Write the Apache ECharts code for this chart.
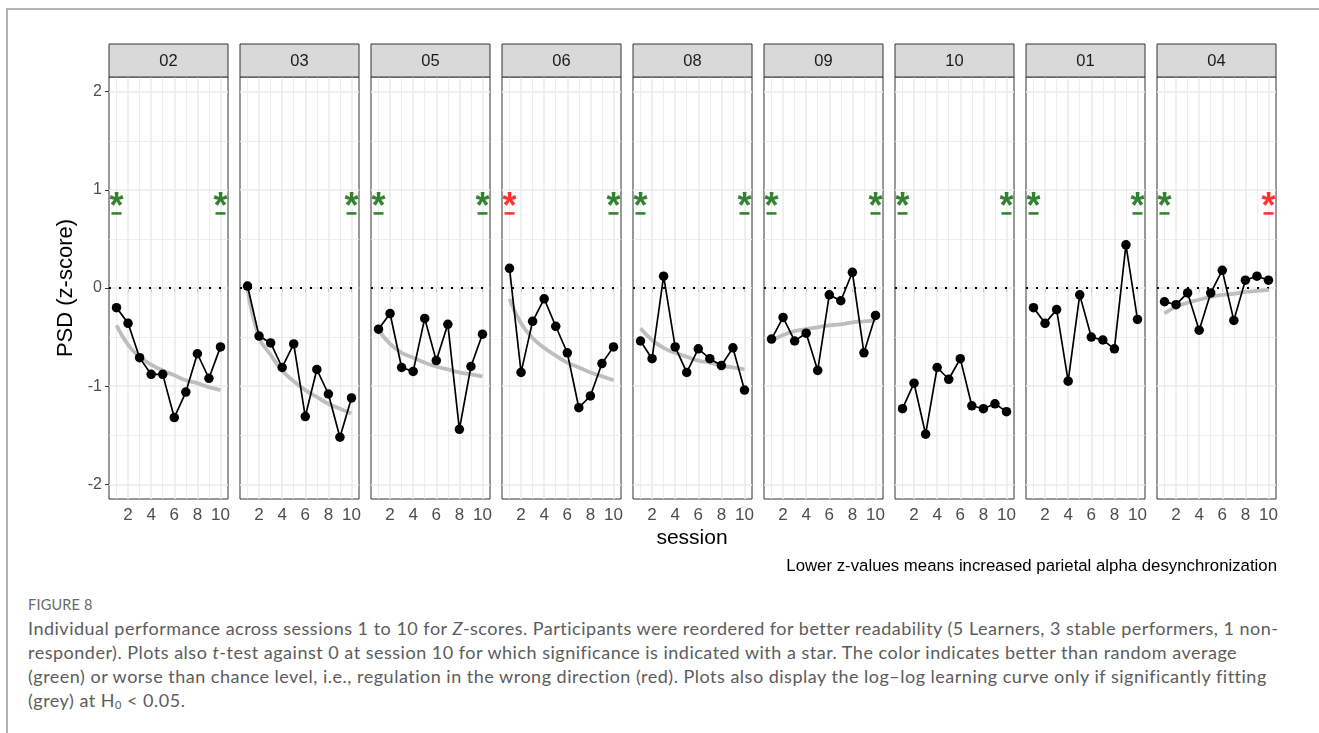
<!DOCTYPE html>
<html>
<head>
<meta charset="utf-8">
<script src="https://cdn.jsdelivr.net/npm/echarts@6/dist/echarts.min.js"></script>
<style>
  html, body { margin: 0; padding: 0; background: #fff; }
  #frame { position: absolute; left: 6px; top: 8px; width: 1313px; height: 725px;
           border-top: 2px solid #b4b4b4; border-left: 2px solid #b4b4b4; box-sizing: border-box; }
  #chart { position: absolute; left: 0; top: 0; width: 1319px; height: 590px; }
  #caption { position: absolute; left: 28px; top: 594px; font-family: Lato, "Open Sans", sans-serif;
             color: #5c5c5c; }
  #caption .fig { font-size: 14.5px; letter-spacing: 0.2px; height: 22px; line-height: 22px; color: #6a6a6a; }
  #caption .ln { font-size: 18px; letter-spacing: 0.5px; line-height: 24px; white-space: nowrap; }
  #caption sub { font-size: 11px; vertical-align: -2px; line-height: 0; }
</style>
</head>
<body>
<div id="frame"></div>
<div id="chart"></div>
<div id="caption">
  <div class="fig">FIGURE 8</div>
  <div class="ln">Individual performance across sessions 1 to 10 for <i>Z</i>-scores. Participants were reordered for better readability (5 Learners, 3 stable performers, 1 non-</div>
  <div class="ln">responder). Plots also <i>t</i>-test against 0 at session 10 for which significance is indicated with a star. The color indicates better than random average</div>
  <div class="ln">(green) or worse than chance level, i.e., regulation in the wrong direction (red). Plots also display the log–log learning curve only if significantly fitting</div>
  <div class="ln">(grey) at H<sub>0</sub> &lt; 0.05.</div>
</div>
<script>
// Participants (facet order) and sessions
const participants = ['02', '03', '05', '06', '08', '09', '10', '01', '04'];
const sessions = [1, 2, 3, 4, 5, 6, 7, 8, 9, 10];

// PSD z-scores per session
const z02 = [-0.20, -0.36, -0.71, -0.88, -0.88, -1.32, -1.06, -0.67, -0.92, -0.60];
const z03 = [0.02, -0.49, -0.56, -0.81, -0.57, -1.31, -0.83, -1.08, -1.52, -1.12];
const z05 = [-0.42, -0.26, -0.81, -0.85, -0.31, -0.74, -0.37, -1.44, -0.80, -0.47];
const z06 = [0.20, -0.86, -0.34, -0.11, -0.39, -0.66, -1.22, -1.10, -0.77, -0.60];
const z08 = [-0.54, -0.72, 0.12, -0.60, -0.86, -0.62, -0.72, -0.79, -0.61, -1.04];
const z09 = [-0.52, -0.30, -0.54, -0.46, -0.84, -0.07, -0.13, 0.16, -0.66, -0.28];
const z10 = [-1.23, -0.97, -1.49, -0.81, -0.93, -0.72, -1.20, -1.23, -1.18, -1.26];
const z01 = [-0.20, -0.36, -0.22, -0.95, -0.07, -0.50, -0.53, -0.62, 0.44, -0.32];
const z04 = [-0.14, -0.17, -0.05, -0.43, -0.05, 0.18, -0.33, 0.08, 0.12, 0.08];

// log-log learning curves (only where the fit is significant)
const fit02 = [-0.38, -0.58, -0.70, -0.78, -0.84, -0.89, -0.94, -0.97, -1.01, -1.04];
const fit03 = [0.00, -0.50, -0.68, -0.84, -0.95, -1.04, -1.11, -1.18, -1.23, -1.28];
const fit05 = [-0.43, -0.57, -0.66, -0.71, -0.76, -0.80, -0.83, -0.86, -0.88, -0.90];
const fit06 = [-0.11, -0.36, -0.51, -0.61, -0.69, -0.76, -0.81, -0.86, -0.90, -0.94];
const fit08 = [-0.41, -0.53, -0.61, -0.66, -0.70, -0.74, -0.76, -0.79, -0.81, -0.83];
const fit09 = [-0.54, -0.48, -0.44, -0.42, -0.40, -0.38, -0.37, -0.35, -0.34, -0.33];
const fit10 = null;
const fit01 = null;
const fit04 = [-0.26, -0.19, -0.15, -0.12, -0.09, -0.07, -0.06, -0.04, -0.03, -0.02];

// t-test significance markers: colour at session 1 and at session 10 (null = not significant)
const sigFirst = ['green', null, 'green', 'red', 'green', 'green', 'green', 'green', 'green'];
const sigLast  = ['green', 'green', 'green', 'green', 'green', 'green', 'green', 'green', 'red'];
const starLevel = 0.90;
const dashLevel = 0.76;

// axis breaks
const xTickLabels = [2, 4, 6, 8, 10];
const xMinorBreaks = [1, 3, 5, 7, 9];
const yTickLabels = [-2, -1, 0, 1, 2];
const yMinorBreaks = [-1.5, -0.5, 0.5, 1.5];

const zByPanel = [z02, z03, z05, z06, z08, z09, z10, z01, z04];
const fitByPanel = [fit02, fit03, fit05, fit06, fit08, fit09, fit10, fit01, fit04];

// layout
const PANEL_LEFT = 109, PANEL_STEP = 131, PANEL_W = 119;
const PANEL_TOP = 77, PANEL_H = 422;
const STRIP_TOP = 44, STRIP_H = 33;
const X_MIN = 0.35, X_MAX = 10.65, Y_MIN = -2.15, Y_MAX = 2.15;
const FONT = '"Liberation Sans", Arial, sans-serif';
const SIG_COLORS = { green: '#006400', red: '#ff0000' };

const chart = echarts.init(document.getElementById('chart'), null, { renderer: 'canvas' });

const grids = [], xAxes = [], yAxes = [], series = [], graphics = [];

participants.forEach((p, i) => {
  const left = PANEL_LEFT + i * PANEL_STEP;
  grids.push({
    left: left, top: PANEL_TOP, width: PANEL_W, height: PANEL_H,
    show: true, backgroundColor: '#ffffff', borderColor: '#333333', borderWidth: 1
  });
  xAxes.push({
    type: 'value', gridIndex: i, min: X_MIN, max: X_MAX,
    axisLine: { show: false }, splitLine: { show: false },
    axisTick: { show: true, customValues: xTickLabels, length: 4, lineStyle: { color: '#333333', width: 1 } },
    axisLabel: { customValues: xTickLabels, margin: 8, fontSize: 17, color: '#4d4d4d', fontFamily: FONT }
  });
  yAxes.push({
    type: 'value', gridIndex: i, min: Y_MIN, max: Y_MAX,
    axisLine: { show: false }, splitLine: { show: false },
    axisTick: { show: i === 0, customValues: yTickLabels, length: 4, lineStyle: { color: '#333333', width: 1 } },
    axisLabel: { show: i === 0, customValues: yTickLabels, margin: 7, fontSize: 16, color: '#4d4d4d', fontFamily: FONT },
    name: i === 0 ? 'PSD (z-score)' : '', nameLocation: 'middle', nameGap: 32,
    nameTextStyle: { fontSize: 22, color: '#000', fontFamily: FONT }
  });

  // panel grid lines (kept underneath every data layer)
  const gridLines = [];
  xMinorBreaks.forEach(v => gridLines.push({ xAxis: v, lineStyle: { color: '#ebebeb', width: 0.9, type: 'solid' } }));
  xTickLabels.forEach(v => gridLines.push({ xAxis: v, lineStyle: { color: '#ebebeb', width: 1.6, type: 'solid' } }));
  yMinorBreaks.forEach(v => gridLines.push({ yAxis: v, lineStyle: { color: '#ebebeb', width: 0.9, type: 'solid' } }));
  yTickLabels.forEach(v => gridLines.push({ yAxis: v, lineStyle: { color: '#ebebeb', width: 1.6, type: 'solid' } }));
  series.push({
    type: 'line', xAxisIndex: i, yAxisIndex: i, data: [], silent: true, z: 1,
    markLine: { z: 1, silent: true, symbol: ['none', 'none'], label: { show: false }, animation: false, data: gridLines }
  });
  // dotted zero reference
  series.push({
    type: 'line', xAxisIndex: i, yAxisIndex: i, data: [], silent: true, z: 2,
    markLine: {
      z: 2, silent: true, symbol: ['none', 'none'], label: { show: false }, animation: false,
      data: [{ yAxis: 0, lineStyle: { color: '#000', width: 2, type: [2, 8], cap: 'butt' } }]
    }
  });

  // fitted learning curve
  const fit = fitByPanel[i];
  if (fit) {
    series.push({
      type: 'line', xAxisIndex: i, yAxisIndex: i, z: 3, silent: true,
      data: sessions.map((s, k) => [s, fit[k]]),
      smooth: true, showSymbol: false, symbol: 'none',
      lineStyle: { color: '#bebebe', width: 3.8 }
    });
  }

  // observed z-scores
  series.push({
    type: 'line', xAxisIndex: i, yAxisIndex: i, z: 4,
    data: sessions.map((s, k) => [s, zByPanel[i][k]]),
    symbol: 'circle', symbolSize: 9.5, showAllSymbol: true,
    lineStyle: { color: '#000', width: 1.7 },
    itemStyle: { color: '#000', borderColor: '#000', borderWidth: 0, opacity: 1 },
    emphasis: { disabled: true }
  });

  // significance markers: star above a short dash
  [[1, sigFirst[i]], [10, sigLast[i]]].forEach(([s, c]) => {
    if (!c) return;
    const col = SIG_COLORS[c];
    series.push({
      type: 'scatter', xAxisIndex: i, yAxisIndex: i, z: 5, silent: true,
      data: [[s, starLevel]], symbolSize: 1, itemStyle: { color: 'rgba(0,0,0,0)' },
      label: {
        show: true, position: 'inside', formatter: '*', offset: [0, 8],
        fontSize: 36, fontWeight: 'bold', color: col, fontFamily: FONT
      }
    });
    series.push({
      type: 'scatter', xAxisIndex: i, yAxisIndex: i, z: 5, silent: true,
      data: [[s, dashLevel]], symbol: 'rect', symbolSize: [10, 2.6],
      itemStyle: { color: col }
    });
  });

  // facet strip
  graphics.push({
    type: 'rect', z: 10,
    shape: { x: left, y: STRIP_TOP, width: PANEL_W, height: STRIP_H },
    style: { fill: '#d9d9d9', stroke: '#333333', lineWidth: 1 }
  });
  graphics.push({
    type: 'text', z: 11, x: left + PANEL_W / 2, y: STRIP_TOP + STRIP_H / 2 + 1,
    style: { text: p, align: 'center', verticalAlign: 'middle', font: '16.5px ' + FONT, fill: '#1a1a1a' }
  });
});

graphics.push({
  type: 'text', x: 692, y: 538,
  style: { text: 'session', align: 'center', verticalAlign: 'middle', font: '21px ' + FONT, fill: '#000' }
});
graphics.push({
  type: 'text', x: 1277, y: 566,
  style: { text: 'Lower z-values means increased parietal alpha desynchronization', align: 'right',
           verticalAlign: 'middle', font: '16.8px ' + FONT, fill: '#000' }
});

chart.setOption({
  animation: false,
  backgroundColor: 'transparent',
  grid: grids, xAxis: xAxes, yAxis: yAxes, series: series, graphic: graphics
});
</script>
</body>
</html>
